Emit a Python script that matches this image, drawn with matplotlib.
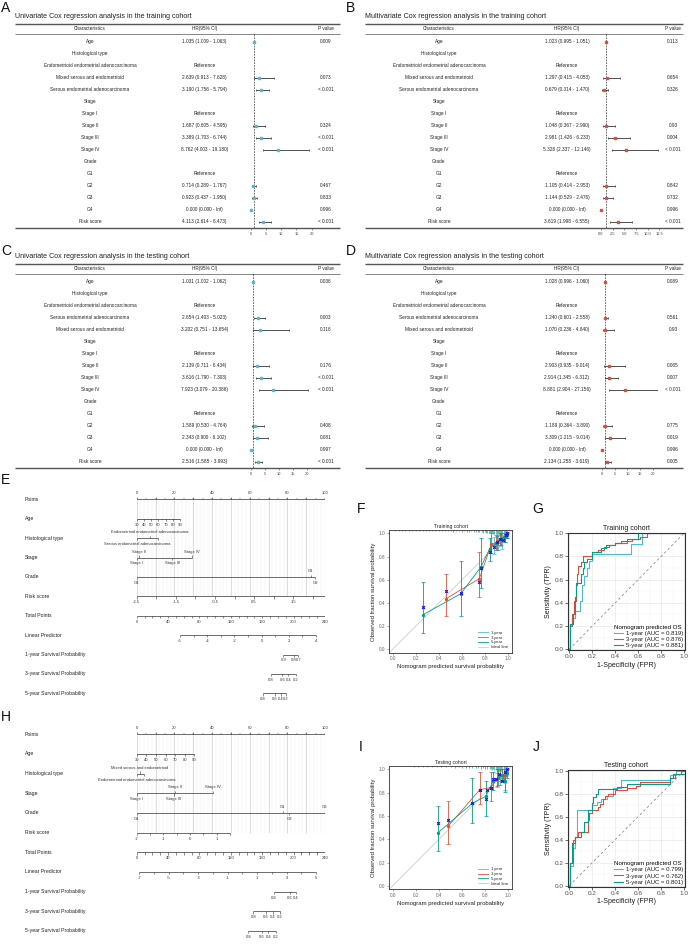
import numpy as np
import matplotlib.pyplot as plt
from matplotlib import transforms
from matplotlib.lines import Line2D

plt.rcParams['font.family'] = ['Liberation Sans', 'DejaVu Sans']

W, H = 693, 944
fig = plt.figure(figsize=(W / 100, H / 100), dpi=100)

C1, C3, C5 = '#4DBBD5', '#E64B35', '#00A087'   # 1-, 3-, 5-year colours


def px_axes(x0, y0, x1, y1):
    # axes placed in figure pixels (origin top-left)
    return fig.add_axes([x0 / W, 1 - y1 / H, (x1 - x0) / W, (y1 - y0) / H])


def fig_text(x, y, s, **kw):
    fig.text(x / W, 1 - y / H, s, **kw)


# ---------------- forest plot data ----------------
rows_train = ['Age', 'Histological type', 'Endometrioid endometrial adenocarcinoma',
              'Mixed serous and endometrioid', 'Serous endometrial adenocarcinoma',
              'Stage', 'Stage I', 'Stage II', 'Stage III', 'Stage IV',
              'Grade', 'G1', 'G2', 'G3', 'G4', 'Risk score']
rows_test = ['Age', 'Histological type', 'Endometrioid endometrial adenocarcinoma',
             'Serous endometrial adenocarcinoma', 'Mixed serous and endometrioid',
             'Stage', 'Stage I', 'Stage II', 'Stage III', 'Stage IV',
             'Grade', 'G1', 'G2', 'G3', 'G4', 'Risk score']
ref_rows = ['Endometrioid endometrial adenocarcinoma', 'Stage I', 'G1']
inf = np.inf

uni_train_hr = [1.035, None, None, 2.639, 3.190, None, None, 1.687, 3.389, 8.762, None, None, 0.714, 0.923, 0.000, 4.113]
uni_train_lo = [1.009, None, None, 0.913, 1.756, None, None, 0.605, 1.703, 4.003, None, None, 0.289, 0.437, 0.000, 2.614]
uni_train_hi = [1.063, None, None, 7.628, 5.794, None, None, 4.595, 6.744, 19.180, None, None, 1.767, 1.950, inf, 6.473]
uni_train_p = ['0.009', '', '', '0.073', '< 0.001', '', '', '0.324', '< 0.001', '< 0.001', '', '', '0.467', '0.833', '0.996', '< 0.001']

multi_train_hr = [1.023, None, None, 1.297, 0.679, None, None, 1.048, 2.981, 5.328, None, None, 1.105, 1.144, 0.000, 3.619]
multi_train_lo = [0.995, None, None, 0.415, 0.314, None, None, 0.367, 1.426, 2.337, None, None, 0.414, 0.529, 0.000, 1.998]
multi_train_hi = [1.051, None, None, 4.053, 1.470, None, None, 2.990, 6.233, 12.146, None, None, 2.953, 2.476, inf, 6.555]
multi_train_p = ['0.113', '', '', '0.654', '0.326', '', '', '0.93', '0.004', '< 0.001', '', '', '0.842', '0.732', '0.996', '< 0.001']

uni_test_hr = [1.031, None, None, 2.654, 3.202, None, None, 2.139, 3.616, 7.923, None, None, 1.589, 2.343, 0.000, 2.516]
uni_test_lo = [1.002, None, None, 1.403, 0.751, None, None, 0.711, 1.790, 3.079, None, None, 0.530, 0.900, 0.000, 1.585]
uni_test_hi = [1.062, None, None, 5.023, 13.654, None, None, 6.434, 7.303, 20.386, None, None, 4.764, 6.102, inf, 3.993]
uni_test_p = ['0.036', '', '', '0.003', '0.116', '', '', '0.176', '< 0.001', '< 0.001', '', '', '0.408', '0.081', '0.997', '< 0.001']

multi_test_hr = [1.028, None, None, 1.240, 1.070, None, None, 2.903, 2.914, 8.881, None, None, 1.189, 3.309, 0.000, 2.134]
multi_test_lo = [0.996, None, None, 0.601, 0.236, None, None, 0.935, 1.345, 2.904, None, None, 0.364, 1.215, 0.000, 1.258]
multi_test_hi = [1.060, None, None, 2.558, 4.840, None, None, 9.014, 6.312, 27.156, None, None, 3.890, 9.014, inf, 3.619]
multi_test_p = ['0.089', '', '', '0.561', '0.93', '', '', '0.065', '0.007', '< 0.001', '', '', '0.775', '0.019', '0.996', '0.005']

ticks_20 = [0, 5, 10, 15, 20]
ticks_125 = [0, 2.5, 5, 7.5, 10, 12.5]


def fmt(v):
    return 'Inf' if np.isinf(v) else f'{v:.3f}'


def forest(x0, x1, y0, title, rows, hr, lo, hi, pv, color, cols,
           zero_px, px_per, f0, f1, ticks, ticklabels):
    y_top, y_bot = y0 + 23.5, y0 + 228.3
    fs = 3.45
    fig_text(x0, y0 + 16.5, title, fontsize=5.1, va='center', ha='left', color='#222')
    ax = px_axes(x0, y_top, x1, y_bot)
    ax.set_xlim(x0, x1)
    ax.set_ylim(15.55, -1.52)
    ax.axis('off')
    for yy, lw in [(-1.52, 1.0), (-0.68, 0.5), (15.55, 1.0)]:
        ax.plot([x0, x1], [yy, yy], color='#555555', lw=lw, clip_on=False,
                solid_capstyle='butt')
    c_char, c_hr, c_p = cols
    ax.text(c_char, -1.1, 'Characteristics', ha='center', va='center', fontsize=fs, color='#222')
    ax.text(c_hr, -1.1, 'HR(95% CI)', ha='center', va='center', fontsize=fs, color='#222')
    ax.text(c_p, -1.1, 'P value', ha='center', va='center', fontsize=fs, color='#222')
    for i, name in enumerate(rows):
        ax.text(c_char, i, name, ha='center', va='center', fontsize=fs, color='#222')
        if name in ref_rows:
            ax.text(c_hr, i, 'Reference', ha='center', va='center', fontsize=fs, color='#222')
        elif hr[i] is not None:
            s = f'{fmt(hr[i])} ({fmt(lo[i])} - {fmt(hi[i])})'
            ax.text(c_hr, i, s, ha='center', va='center', fontsize=fs, color='#222')
        ax.text(c_p, i, pv[i], ha='center', va='center', fontsize=fs, color='#222')

    axf = px_axes(f0, y_top, f1, y_bot)
    axf.set_xlim((f0 - zero_px) / px_per, (f1 - zero_px) / px_per)
    axf.set_ylim(15.55, -1.52)
    axf.patch.set_alpha(0)
    for sp in axf.spines.values():
        sp.set_visible(False)
    axf.set_yticks([])
    axf.set_xticks(ticks)
    axf.set_xticklabels(ticklabels)
    axf.tick_params(axis='x', length=1.5, width=0.4, pad=1, labelsize=2.9,
                    colors='#444')
    axf.plot([1, 1], [-0.68, 15.55], color='#333', lw=0.5, ls=(0, (2.5, 1.5)))
    for i in range(len(rows)):
        if hr[i] is None:
            continue
        if not np.isinf(hi[i]):
            axf.errorbar(hr[i], i, xerr=[[hr[i] - lo[i]], [hi[i] - hr[i]]], fmt='none',
                         ecolor='#333', elinewidth=0.6, capsize=1.0, capthick=0.5)
        axf.plot(hr[i], i, marker='s', ms=2.1, color=color, mec=color, zorder=5)


forest(15, 340, 0, 'Univariate Cox regression analysis in the training cohort',
       rows_train, uni_train_hr, uni_train_lo, uni_train_hi, uni_train_p, C1,
       (90, 204.5, 326), 251, 3.03, 243, 317, ticks_20, [str(t) for t in ticks_20])
forest(365, 683, 0, 'Multivariate Cox regression analysis in the training cohort',
       rows_train, multi_train_hr, multi_train_lo, multi_train_hi, multi_train_p, C3,
       (439, 567, 673), 601, 4.67, 593, 664, ticks_125, [f'{t:.1f}' for t in ticks_125])
forest(15, 340, 240, 'Univariate Cox regression analysis in the testing cohort',
       rows_test, uni_test_hr, uni_test_lo, uni_test_hi, uni_test_p, C1,
       (90, 204.5, 326), 250.5, 2.83, 243, 317, ticks_20, [str(t) for t in ticks_20])
forest(365, 683, 240, 'Multivariate Cox regression analysis in the testing cohort',
       rows_test, multi_test_hr, multi_test_lo, multi_test_hi, multi_test_p, C3,
       (439, 567, 673), 602, 2.54, 594, 658, ticks_20, [str(t) for t in ticks_20])

# ---------------- nomogram data (points positions) ----------------
# continuous scales: (value_a, points_a, value_b, points_b)
nomE_age = (30, 0.0, 90, 23.0)
nomE_hist = [('Serous endometrial adenocarcinoma', 0.0, 'below'),
             ('Endometrioid endometrial adenocarcinoma', 6.8, 'above'),
             ('', 11.5, 'below')]
nomE_stage = [('Stage I', 0.0, 'below'), ('Stage II', 1.0, 'above'),
              ('Stage III', 18.9, 'below'), ('Stage IV', 29.2, 'above')]
nomE_grade = [('G4', 0.0, 'below'), ('G1', 92.4, 'above'), ('G2', 94.7, 'below')]
nomE_risk = (-2.5, 0.0, 2.31, 100.0)
nomE_risk_labels = [-2.5, -1.5, -0.5, 0.5, 1.5]
nomE_lp = (-6, 55.2, 4, 228.5)          # linear predictor -> total points
nomE_lp_labels = [-6, -4, -2, 0, 2, 4]
nomE_s1 = ([0.9, 0.8, 0.7], [186.8, 200.5, 206.0])      # survival -> total points
nomE_s3 = ([0.8, 0.6, 0.4, 0.2], [171.2, 185.6, 193.2, 202.6])
nomE_s5 = ([0.8, 0.6, 0.4, 0.2], [160.6, 176.2, 183.5, 190.3])

nomH_age = (30, 0.0, 90, 30.6)
nomH_hist = [('Endometrioid endometrial adenocarcinoma', 0.0, 'below'),
             ('Mixed serous and endometrioid', 1.75, 'above'),
             ('', 4.0, 'below')]
nomH_stage = [('Stage I', 0.0, 'below'), ('Stage III', 19.6, 'below'),
              ('Stage II', 20.2, 'above'), ('Stage IV', 40.7, 'above')]
nomH_grade = [('G4', 0.0, 'below'), ('G1', 77.5, 'above'), ('G2', 80.9, 'below'),
              ('G3', 100.0, 'above')]
nomH_risk = (-2, 0.0, 1.5, 49.5)
nomH_risk_labels = [-2, -1, 0, 1]
nomH_lp = (-7, 3.3, 5, 228.5)
nomH_lp_labels = [-7, -5, -3, -1, 1, 3, 5]
nomH_s1 = ([0.8, 0.6, 0.4], [175.0, 195.4, 203.0])
nomH_s3 = ([0.8, 0.6, 0.4, 0.2], [148.6, 164.4, 173.3, 182.6])
nomH_s5 = ([0.8, 0.6, 0.4, 0.2], [142.2, 159.3, 167.7, 177.5])

row_names = ['Points', 'Age', 'Histological type', 'Stage', 'Grade', 'Risk score',
             'Total Points', 'Linear Predictor', '1-year Survival Probability',
             '3-year Survival Probability', '5-year Survival Probability']


def lin(vals, spec):
    va, pa, vb, pb = spec
    return pa + (np.asarray(vals, float) - va) * (pb - pa) / (vb - va)


def nomogram(y_first, step, age, hist, stage, grade, risk, risk_labels,
             lp, lp_labels, s1, s3, s5):
    n = len(row_names)
    ax = px_axes(136.7, y_first - step, 325.0, y_first + step * n)
    ax.set_xlim(0, 100)
    ax.set_ylim(n, -1)
    ax.axis('off')
    lab_tr = transforms.blended_transform_factory(fig.transFigure, ax.transData)
    for i, name in enumerate(row_names):
        ax.text(25 / W, i, name, transform=lab_tr, ha='left', va='center',
                fontsize=3.7, color='#222')
    # grid
    ax.vlines(np.arange(0, 101, 2), 0, 5, colors='#ececec', lw=0.35, zorder=0)
    ax.vlines(np.arange(0, 101, 10), 0, 5, colors='#d2d2d2', lw=0.5, zorder=0)

    lc, fs, tl, off = '#333', 3.0, 0.12, 0.2

    def row(i, p0, p1, ticks, minor, labels, side):
        d = tl if side == 'below' else -tl
        ax.plot([p0, p1], [i, i], color=lc, lw=0.5, solid_capstyle='butt')
        ax.vlines(ticks, i, i + d, colors=lc, lw=0.4)
        if minor is not None:
            ax.vlines(minor, i, i + d * 0.6, colors=lc, lw=0.35)
        for p, s in labels:
            if side == 'below':
                ax.text(p, i + off, s, ha='center', va='top', fontsize=fs, color='#333')
            else:
                ax.text(p, i - off, s, ha='center', va='bottom', fontsize=fs, color='#333')

    def cat_row(i, cats):
        pos = [c[1] for c in cats]
        ax.plot([min(pos), max(pos)], [i, i], color=lc, lw=0.5, solid_capstyle='butt')
        for s, p, side in cats:
            d = tl if side == 'below' else -tl
            ax.vlines(p, i, i + d, colors=lc, lw=0.4)
            if s:
                if side == 'below':
                    ax.text(p, i + off, s, ha='center', va='top', fontsize=fs, color='#333')
                else:
                    ax.text(p, i - off, s, ha='center', va='bottom', fontsize=fs, color='#333')

    pts = np.arange(0, 101, 20)
    row(0, 0, 100, np.arange(0, 101, 10), np.arange(0, 101, 5),
        [(p, str(p)) for p in pts], 'above')
    ages = np.arange(30, 91, 10)
    row(1, age[1], age[3], lin(ages, age), lin(np.arange(30, 91, 5), age),
        list(zip(lin(ages, age), [str(a) for a in ages])), 'below')
    cat_row(2, hist)
    cat_row(3, stage)
    cat_row(4, grade)
    rk = np.arange(risk[0], risk[2] + 1e-9, 0.5)
    row(5, risk[1], risk[3], lin(rk, risk), None,
        list(zip(lin(risk_labels, risk), [f'{v:g}' for v in risk_labels])), 'below')
    tot = np.arange(0, 241, 40)
    row(6, 0, 100, np.arange(0, 241, 10) / 2.4, None,
        list(zip(tot / 2.4, [str(t) for t in tot])), 'below')
    lpt = np.arange(lp[0], lp[2] + 1, 1)
    lpp = lin(lpt, lp) / 2.4
    row(7, lpp[0], lpp[-1], lpp, None,
        list(zip(lin(lp_labels, lp) / 2.4, [str(v) for v in lp_labels])), 'below')
    for i, (sv, st) in zip([8, 9, 10], [s1, s3, s5]):
        sp = np.asarray(st) / 2.4
        row(i, sp[0], sp[-1], sp, None,
            list(zip(sp, [f'{v:.1f}' for v in sv])), 'below')


nomogram(499.3, 19.4, nomE_age, nomE_hist, nomE_stage, nomE_grade, nomE_risk,
         nomE_risk_labels, nomE_lp, nomE_lp_labels, nomE_s1, nomE_s3, nomE_s5)
nomogram(734.3, 19.67, nomH_age, nomH_hist, nomH_stage, nomH_grade, nomH_risk,
         nomH_risk_labels, nomH_lp, nomH_lp_labels, nomH_s1, nomH_s3, nomH_s5)

# ---------------- calibration data ----------------
calF_1y = dict(x=[0.88, 0.91, 0.93, 0.95, 0.97, 0.985],
               y=[0.90, 0.93, 0.95, 0.94, 0.97, 0.99],
               lo=[0.82, 0.86, 0.89, 0.87, 0.93, 0.96],
               hi=[0.97, 0.99, 1.0, 0.99, 1.0, 1.0])
calF_3y = dict(x=[0.46, 0.75, 0.855, 0.89, 0.93, 0.96, 0.98],
               y=[0.435, 0.61, 0.91, 0.92, 0.95, 0.97, 0.99],
               lo=[0.285, 0.447, 0.83, 0.86, 0.90, 0.93, 0.96],
               hi=[0.654, 0.836, 1.0, 0.99, 1.0, 1.0, 1.0])
calF_5y = dict(x=[0.265, 0.59, 0.764, 0.84, 0.90, 0.94, 0.97, 0.99],
               y=[0.30, 0.48, 0.712, 0.87, 0.92, 0.95, 0.97, 0.99],
               lo=[0.144, 0.29, 0.533, 0.76, 0.86, 0.90, 0.93, 0.96],
               hi=[0.58, 0.76, 0.957, 0.96, 0.98, 1.0, 1.0, 1.0])
calF_km_x = [0.265, 0.46, 0.594, 0.75, 0.764, 0.84, 0.88, 0.90, 0.93, 0.957, 0.977, 0.99]
calF_km_y = [0.365, 0.50, 0.485, 0.58, 0.70, 0.84, 0.885, 0.93, 0.95, 0.94, 0.99, 1.0]
# predicted-risk distribution shown as spikes hanging from the top (x, count)
calF_rug_x = [0.02, 0.05, 0.08, 0.11, 0.14, 0.17, 0.20, 0.23, 0.26, 0.29, 0.31, 0.34, 0.37,
              0.40, 0.43, 0.45, 0.48, 0.50, 0.52, 0.55, 0.57, 0.60, 0.62, 0.64, 0.66, 0.68,
              0.70, 0.72, 0.74, 0.75, 0.77, 0.78, 0.80, 0.81, 0.82, 0.83, 0.84, 0.85, 0.86,
              0.87, 0.88, 0.89, 0.90, 0.91, 0.92, 0.93, 0.94, 0.95, 0.96, 0.97, 0.98, 0.99]
calF_rug_n = [3, 2, 3, 2, 4, 2, 3, 4, 3, 2, 4, 3, 2, 4, 3, 4, 3, 4, 5, 3, 4, 5, 4, 5, 6, 4,
              6, 5, 6, 7, 6, 8, 7, 8, 9, 8, 10, 9, 10, 12, 11, 12, 14, 12, 13, 14, 15, 14,
              16, 14, 15, 12]

calI_1y = dict(x=[0.90, 0.93, 0.95, 0.97, 0.99],
               y=[0.91, 0.93, 0.95, 0.89, 0.98],
               lo=[0.85, 0.87, 0.90, 0.82, 0.95],
               hi=[0.97, 0.99, 1.0, 0.96, 1.0])
calI_3y = dict(x=[0.477, 0.754, 0.85, 0.90, 0.93, 0.96, 0.98],
               y=[0.51, 0.826, 0.845, 0.92, 0.95, 0.95, 0.98],
               lo=[0.36, 0.70, 0.73, 0.86, 0.90, 0.90, 0.94],
               hi=[0.73, 0.98, 0.98, 1.0, 1.0, 1.0, 1.0])
calI_5y = dict(x=[0.39, 0.69, 0.806, 0.87, 0.91, 0.95, 0.97, 0.99],
               y=[0.455, 0.71, 0.77, 0.90, 0.93, 0.95, 0.90, 0.97],
               lo=[0.30, 0.54, 0.60, 0.82, 0.87, 0.90, 0.81, 0.93],
               hi=[0.69, 0.93, 0.90, 0.98, 1.0, 1.0, 0.98, 1.0])
calI_km_x = [0.39, 0.477, 0.69, 0.754, 0.806, 0.814, 0.85, 0.87, 0.89, 0.92, 0.95, 0.97, 0.99]
calI_km_y = [0.536, 0.565, 0.71, 0.826, 0.745, 0.826, 0.845, 0.92, 0.92, 0.96, 0.90, 0.98, 1.0]
calI_rug_x = [0.18, 0.22, 0.26, 0.30, 0.34, 0.38, 0.42, 0.46, 0.50, 0.54, 0.57, 0.60, 0.63,
              0.66, 0.69, 0.72, 0.74, 0.76, 0.78, 0.80, 0.82, 0.84, 0.85, 0.86, 0.87, 0.88,
              0.89, 0.90, 0.91, 0.92, 0.93, 0.94, 0.95, 0.96, 0.97, 0.98, 0.99]
calI_rug_n = [2, 3, 2, 3, 4, 3, 4, 3, 4, 5, 4, 5, 6, 5, 6, 7, 6, 8, 7, 9, 8, 10, 9, 11,
              10, 12, 11, 13, 12, 14, 13, 15, 14, 16, 15, 14, 12]


def calib(box, title, s1, s3, s5, km_x, km_y, rug_x, rug_n):
    ax = px_axes(*box)
    ax.set_xlim(-0.03, 1.03)
    ax.set_ylim(-0.03, 1.03)
    ax.axline((0, 0), (1, 1), color='#cccccc', lw=0.6, zorder=1)
    ax.vlines(rug_x, 1.03 - 0.003 * np.asarray(rug_n), 1.03, colors=C5, lw=0.45, zorder=2)
    for s, c in [(s1, C1), (s3, C3), (s5, C5)]:
        x, y = np.array(s['x']), np.array(s['y'])
        ax.errorbar(x, y, yerr=[y - np.array(s['lo']), np.array(s['hi']) - y],
                    color=c, lw=0.6, elinewidth=0.6, capsize=1.2, capthick=0.5,
                    marker='o', ms=1.4, zorder=3)
    ax.plot(km_x, km_y, 'x', color='#1010ff', ms=2.0, mew=0.8, zorder=4)
    ticks = np.arange(0, 1.01, 0.2)
    ax.set_xticks(ticks)
    ax.set_yticks(ticks)
    ax.set_xticklabels([f'{t:.1f}' for t in ticks])
    ax.set_yticklabels([f'{t:.1f}' for t in ticks])
    ax.tick_params(length=1.5, width=0.4, pad=1.2, labelsize=3.4, colors='#666')
    for sp in ax.spines.values():
        sp.set_linewidth(0.6)
        sp.set_color('#333')
    ax.set_title(title, fontsize=3.6, pad=1.5, color='#222')
    ax.set_xlabel('Nomogram predicted survival probability', fontsize=4.3, labelpad=2,
                  color='#222')
    ax.set_ylabel('Observed fraction survival probability', fontsize=4.3, labelpad=2,
                  color='#222')
    handles = [Line2D([], [], color=C1, lw=0.6), Line2D([], [], color=C3, lw=0.6),
               Line2D([], [], color=C5, lw=0.6), Line2D([], [], color='#cccccc', lw=0.6)]
    leg = ax.legend(handles, ['1-year', '3-year', '5-year', 'Ideal line'], loc='lower right',
                    frameon=False, fontsize=3.2, handlelength=2.2, handletextpad=0.6,
                    labelspacing=0.15, borderaxespad=0.4)
    for t in leg.get_texts():
        t.set_color('#333')


calib((389.3, 530, 511.7, 652.7), 'Training cohort', calF_1y, calF_3y, calF_5y,
      calF_km_x, calF_km_y, calF_rug_x, calF_rug_n)
calib((389.3, 766, 511.7, 889.3), 'Testing cohort', calI_1y, calI_3y, calI_5y,
      calI_km_x, calI_km_y, calI_rug_x, calI_rug_n)

# ---------------- ROC data (step corners) ----------------
rocG_1y_x = [0, 0.005, 0.02, 0.05, 0.09, 0.11, 0.13, 0.15, 0.17, 0.20, 0.54, 0.63, 1.0]
rocG_1y_y = [0, 0.21, 0.27, 0.33, 0.42, 0.55, 0.63, 0.70, 0.76, 0.82, 0.91, 1.0, 1.0]
rocG_3y_x = [0, 0.005, 0.02, 0.04, 0.06, 0.07, 0.08, 0.10, 0.12, 0.20, 0.25, 0.30, 0.35,
             0.40, 0.50, 0.55, 0.62, 0.68, 1.0]
rocG_3y_y = [0, 0.20, 0.30, 0.42, 0.55, 0.65, 0.72, 0.75, 0.80, 0.84, 0.86, 0.88, 0.90,
             0.92, 0.93, 0.95, 0.97, 1.0, 1.0]
rocG_5y_x = [0, 0.01, 0.03, 0.05, 0.06, 0.10, 0.12, 0.13, 0.15, 0.20, 0.28, 0.32, 0.40,
             0.45, 0.50, 0.60, 1.0]
rocG_5y_y = [0, 0.22, 0.30, 0.45, 0.57, 0.65, 0.70, 0.75, 0.78, 0.84, 0.87, 0.90, 0.92,
             0.93, 0.95, 1.0, 1.0]
aucG = [0.819, 0.876, 0.881]

rocJ_1y_x = [0, 0.01, 0.03, 0.05, 0.07, 0.20, 0.24, 0.28, 0.33, 0.38, 0.45, 0.88, 0.93, 1.0]
rocJ_1y_y = [0, 0.17, 0.33, 0.42, 0.66, 0.70, 0.73, 0.75, 0.78, 0.85, 0.92, 0.96, 1.0, 1.0]
rocJ_3y_x = [0, 0.01, 0.03, 0.05, 0.08, 0.16, 0.17, 0.20, 0.25, 0.27, 0.29, 0.31, 0.34,
             0.40, 0.50, 0.58, 0.62, 0.88, 0.92, 0.97, 1.0]
rocJ_3y_y = [0, 0.20, 0.40, 0.42, 0.47, 0.57, 0.63, 0.66, 0.68, 0.71, 0.75, 0.78, 0.80,
             0.83, 0.85, 0.87, 0.90, 0.94, 0.97, 1.0, 1.0]
rocJ_5y_x = [0, 0.005, 0.02, 0.05, 0.10, 0.13, 0.16, 0.20, 0.21, 0.23, 0.25, 0.42, 0.50,
             0.88, 0.90, 1.0]
rocJ_5y_y = [0, 0.20, 0.37, 0.42, 0.47, 0.55, 0.66, 0.72, 0.77, 0.80, 0.84, 0.86, 0.88,
             0.94, 0.97, 0.97]
aucJ = [0.799, 0.762, 0.801]


def roc(box, title, curves, aucs, ylim):
    ax = px_axes(*box)
    ax.set_xlim(-0.014, 1.009)
    ax.set_ylim(*ylim)
    ticks = np.arange(0, 1.01, 0.2)
    ax.set_xticks(ticks)
    ax.set_yticks(ticks)
    ax.set_xticks(np.arange(0.1, 1.0, 0.2), minor=True)
    ax.set_yticks(np.arange(0.1, 1.0, 0.2), minor=True)
    ax.set_xticklabels([f'{t:.1f}' for t in ticks])
    ax.set_yticklabels([f'{t:.1f}' for t in ticks])
    ax.grid(which='major', color='#EBEBEB', lw=0.6)
    ax.grid(which='minor', color='#F3F3F3', lw=0.35)
    ax.tick_params(which='minor', length=0)
    ax.tick_params(which='major', length=2, width=0.5, pad=1.2, labelsize=4.6,
                   colors='#333', labelcolor='#4D4D4D')
    ax.set_axisbelow(True)
    for sp in ax.spines.values():
        sp.set_linewidth(0.8)
        sp.set_color('#333')
    ax.plot([0, 1], [0, 1], color='#8c8c8c', lw=0.6, ls=(0, (3, 3)))
    labels = []
    for (x, y), c, yr, a in zip(curves, [C1, C3, C5], ['1-year', '3-year', '5-year'], aucs):
        ax.plot(x, y, drawstyle='steps-post', color=c, lw=0.8)
        labels.append(f'{yr} (AUC = {a:.3f})')
    ax.set_title(title, fontsize=5.0, pad=2, color='#1a1a1a')
    ax.set_xlabel('1-Specificity (FPR)', fontsize=5.0, labelpad=1.5, color='#1a1a1a')
    ax.set_ylabel('Sensitivity (TPR)', fontsize=5.0, labelpad=1.5, color='#1a1a1a')
    handles = [Line2D([], [], color=c, lw=0.8) for c in [C1, C3, C5]]
    leg = ax.legend(handles, labels, title='Nomogram predicted OS', loc='lower right',
                    fontsize=4.3, title_fontsize=4.4, frameon=True, framealpha=1,
                    edgecolor='none', facecolor='white', handlelength=1.6,
                    handletextpad=0.4, labelspacing=0.15, borderaxespad=0.15,
                    borderpad=0.2, alignment='left', fancybox=False)
    for t in leg.get_texts():
        t.set_color('#1a1a1a')


roc((567.7, 532.7, 685, 650), 'Training cohort',
    [(rocG_1y_x, rocG_1y_y), (rocG_3y_x, rocG_3y_y), (rocG_5y_x, rocG_5y_y)], aucG,
    (-0.006, 1.005))
roc((567.7, 770, 685, 886.7), 'Testing cohort',
    [(rocJ_1y_x, rocJ_1y_y), (rocJ_3y_x, rocJ_3y_y), (rocJ_5y_x, rocJ_5y_y)], aucJ,
    (-0.009, 1.006))

# ---------------- panel letters ----------------
for s, x, y in [('A', 1, 8.5), ('B', 346, 8.5), ('C', 1, 251), ('D', 346, 251),
                ('E', 1, 480), ('F', 357, 509), ('G', 532, 509), ('H', 1, 717),
                ('I', 359, 747), ('J', 533, 747)]:
    fig_text(x, y, s, fontsize=10, ha='left', va='center', color='#111')

fig.savefig('out.png', dpi=100)
